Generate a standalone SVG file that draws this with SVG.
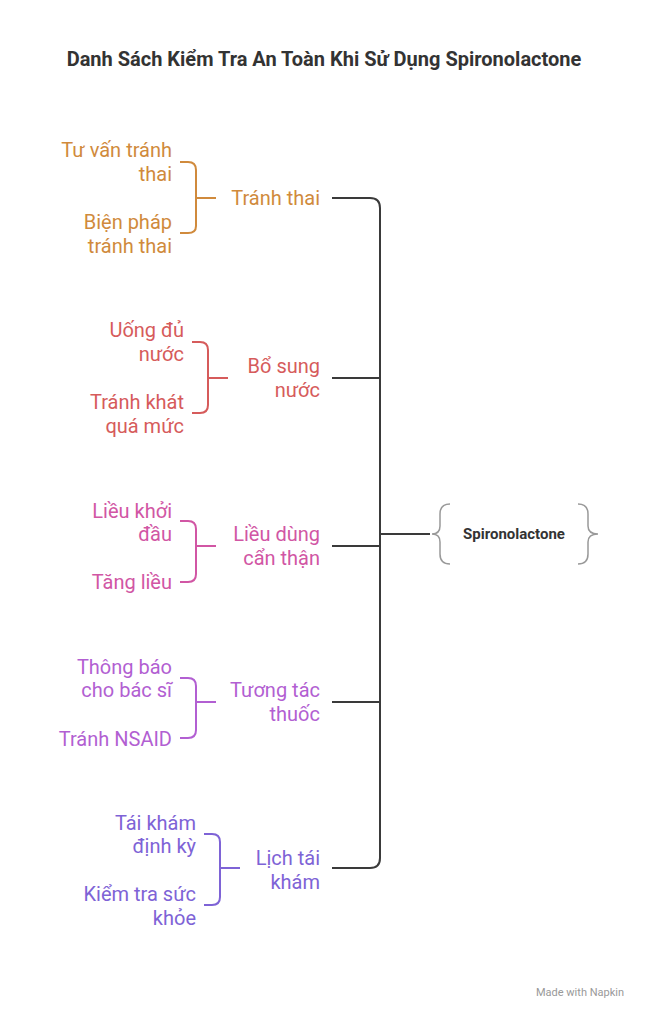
<svg xmlns="http://www.w3.org/2000/svg" width="648" height="1020" viewBox="0 0 648 1020">
<style>
text{font-family:Roboto,"Noto Sans",sans-serif;font-size:20px}
.r{text-anchor:end}
.c1{fill:#D08A3C;stroke:#D08A3C}.c2{fill:#D65B5B;stroke:#D65B5B}.c3{fill:#D156A4;stroke:#D156A4}.c4{fill:#B25FD2;stroke:#B25FD2}.c5{fill:#7E63D6;stroke:#7E63D6}
path.b{fill:none;stroke-width:2}
text.c1,text.c2,text.c3,text.c4,text.c5{stroke:none}
</style>
<rect width="648" height="1020" fill="#fff"/>
<text x="324" y="66" text-anchor="middle" style="font-weight:bold;font-size:20px" fill="#333">Danh Sách Kiểm Tra An Toàn Khi Sử Dụng Spironolactone</text>
<g id="connectors" fill="none" stroke="#3a3a3a" stroke-width="2">
<path d="M332 198H370Q380 198 380 208V858Q380 868 370 868H332"/>
<path d="M332 378H380M332 546H380M332 702H380M380 534H430"/>
</g>
<g id="root">
<path d="M450 504Q440 504 440 514V526Q440 534 432 534Q440 534 440 542V554Q440 564 450 564" fill="none" stroke="#999" stroke-width="1.5"/>
<path d="M578 504Q588 504 588 514V526Q588 534 598 534Q588 534 588 542V554Q588 564 578 564" fill="none" stroke="#999" stroke-width="1.5"/>
<text x="514" y="539" text-anchor="middle" style="font-weight:bold;font-size:15px" fill="#333">Spironolactone</text>
</g>
<g id="g1">
<path class="b c1" d="M180 162H188Q196 162 196 170V226Q196 233 188 233H180M196 198H216"/>
<text class="r c1" x="172" y="157">Tư vấn tránh</text><text class="r c1" x="172" y="181">thai</text>
<text class="r c1" x="172" y="229">Biện pháp</text><text class="r c1" x="172" y="253">tránh thai</text>
<text class="r c1" x="320" y="205">Tránh thai</text>
</g>
<g id="g2">
<path class="b c2" d="M192 342H200Q208 342 208 350V405Q208 413 200 413H192M208 378H228"/>
<text class="r c2" x="184" y="337">Uống đủ</text><text class="r c2" x="184" y="361">nước</text>
<text class="r c2" x="184" y="409">Tránh khát</text><text class="r c2" x="184" y="433">quá mức</text>
<text class="r c2" x="320" y="373">Bổ sung</text><text class="r c2" x="320" y="397">nước</text>
</g>
<g id="g3">
<path class="b c3" d="M180 521H188Q196 521 196 529V574Q196 582 188 582H180M196 546H216"/>
<text class="r c3" x="172" y="518">Liều khởi</text><text class="r c3" x="172" y="541">đầu</text>
<text class="r c3" x="172" y="589">Tăng liều</text>
<text class="r c3" x="320" y="541">Liều dùng</text><text class="r c3" x="320" y="565">cẩn thận</text>
</g>
<g id="g4">
<path class="b c4" d="M180 678H188Q196 678 196 686V730Q196 738 188 738H180M196 702H216"/>
<text class="r c4" x="172" y="674">Thông báo</text><text class="r c4" x="172" y="697">cho bác sĩ</text>
<text class="r c4" x="172" y="746">Tránh NSAID</text>
<text class="r c4" x="320" y="697">Tương tác</text><text class="r c4" x="320" y="721">thuốc</text>
</g>
<g id="g5">
<path class="b c5" d="M204 834H212Q220 834 220 842V897Q220 905 212 905H204M220 868H240"/>
<text class="r c5" x="196" y="830">Tái khám</text><text class="r c5" x="196" y="853">định kỳ</text>
<text class="r c5" x="196" y="901">Kiểm tra sức</text><text class="r c5" x="196" y="925">khỏe</text>
<text class="r c5" x="320" y="865">Lịch tái</text><text class="r c5" x="320" y="889">khám</text>
</g>
<text x="624" y="996" text-anchor="end" style="font-size:11px" fill="#999">Made with  Napkin</text>
</svg>
